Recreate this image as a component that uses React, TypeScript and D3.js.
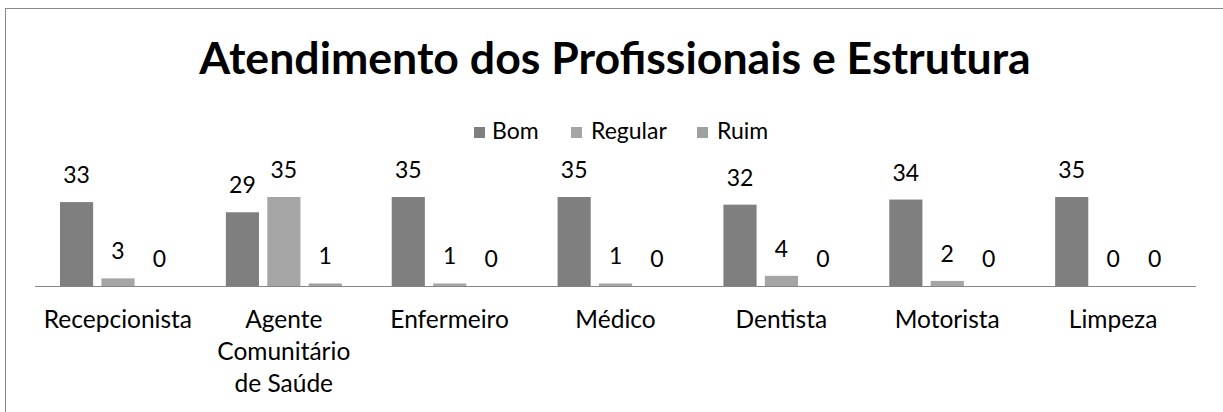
import React from "react";
import * as d3 from "d3";

const categories = ["Recepcionista", "Agente Comunitário de Saúde", "Enfermeiro", "Médico", "Dentista", "Motorista", "Limpeza"];
const categoryLines = [["Recepcionista"], ["Agente", "Comunitário", "de Saúde"], ["Enfermeiro"], ["Médico"], ["Dentista"], ["Motorista"], ["Limpeza"]];
const seriesNames = ["Bom", "Regular", "Ruim"];
const bom = [33, 29, 35, 35, 32, 34, 35];
const regular = [3, 35, 1, 1, 4, 2, 0];
const ruim = [0, 1, 0, 0, 0, 0, 0];
const seriesValues = [bom, regular, ruim];
const colors = ["#7f7f7f", "#a5a5a5", "#a0a0a0"];
const title = "Atendimento dos Profissionais e Estrutura";

const W = 1223;
const H = 412;
const FONT = "Lato, 'Open Sans', sans-serif";

export default function App() {
  const x0 = d3.scaleBand<string>().domain(categories).range([35, 1196]).paddingInner(0).paddingOuter(0);
  const x1 = d3.scaleBand<string>().domain(seriesNames).range([25, 141]).paddingInner(0.2).paddingOuter(0);
  const y = d3.scaleLinear().domain([0, 40]).range([286, 184.3]);

  const legendItems = [
    { name: "Bom", sx: 474, tx: 492 },
    { name: "Regular", sx: 571, tx: 591 },
    { name: "Ruim", sx: 697, tx: 717 },
  ];

  return (
    <svg width={W} height={H} style={{ position: "absolute", left: 0, top: 0 }}>
      <rect x={0} y={0} width={W} height={H} fill="#fff" />
      <rect x={5.5} y={8.5} width={W + 10} height={H + 10} fill="none" stroke="#898989" strokeWidth={1} />
      <text x={615} y={74} textAnchor="middle" fontFamily={FONT} fontWeight="bold" fontSize={44.6} fill="#000">{title}</text>
      {legendItems.map((l, i) => (
        <g key={l.name}>
          <rect x={l.sx} y={127} width={11} height={11} fill={colors[i]} />
          <text x={l.tx} y={139} fontFamily={FONT} fontSize={23} fill="#000">{l.name}</text>
        </g>
      ))}
      {categories.map((c, ci) => (
        <g key={c} transform={`translate(${x0(c)},0)`}>
          {seriesNames.map((s, si) => {
            const v = seriesValues[si][ci];
            const bx = x1(s)!;
            const bw = x1.bandwidth();
            return (
              <g key={s}>
                {v > 0 && <rect x={bx} y={y(v)} width={bw} height={y(0) - y(v)} fill={colors[si]} />}
                <text x={bx + bw / 2} y={y(v) - 19} textAnchor="middle" fontFamily={FONT} fontSize={23} fill="#000">{v}</text>
              </g>
            );
          })}
          {categoryLines[ci].map((line, li) => (
            <text key={li} x={x0.bandwidth() / 2} y={328 + li * 32} textAnchor="middle" fontFamily={FONT} fontSize={24.5} fill="#000">{line}</text>
          ))}
        </g>
      ))}
      <line x1={35} x2={1196} y1={286.5} y2={286.5} stroke="#868686" strokeWidth={1} />
    </svg>
  );
}
